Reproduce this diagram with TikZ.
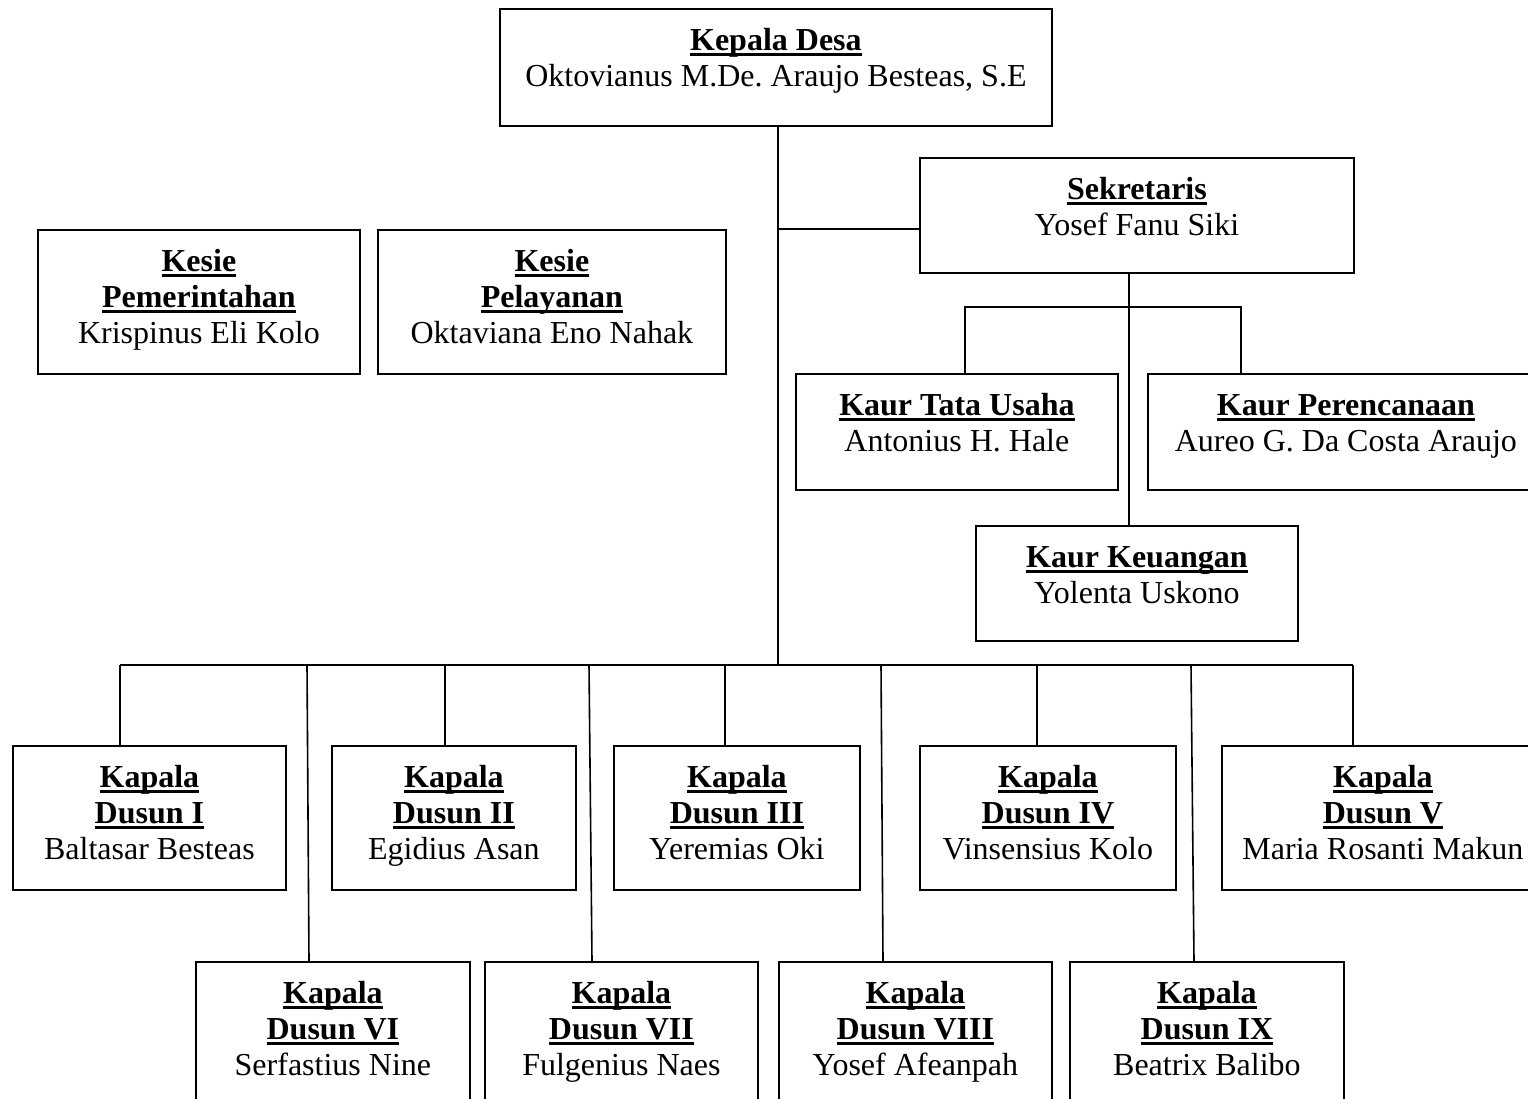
\documentclass[tikz,border=0pt]{standalone}
\usepackage{fontspec}
\setmainfont{Liberation Serif}
\frenchspacing
\newsavebox{\ulbx}
\newcommand{\ttl}[1]{\sbox{\ulbx}{\bfseries #1}\rlap{\rule[-6pt]{\wd\ulbx}{2.8pt}}\usebox{\ulbx}}
\tikzset{
 orgbox/.style={draw=black, line width=1.8pt, inner sep=0pt, anchor=north west},
 orgtxt/.style={font=\fontsize{32}{36}\selectfont\frenchspacing, align=center, inner sep=0pt, anchor=north},
 conn/.style={line width=1.6pt},
 thinconn/.style={line width=1.1pt},
}
% name, x1, y1, width, height, content
\newcommand{\obox}[6]{%
 \node[orgbox, minimum width=#4pt, minimum height=#5pt] (#1) at (#2,#3) {};
 \node[orgtxt] (#1t) at ([yshift=-17pt]#1.north) {\rule{0pt}{25pt}#6};}
\begin{document}
\begin{tikzpicture}[x=1pt,y=-1pt]
\useasboundingbox (0,0) rectangle (1528,1099);
\fill[white] (0,0) rectangle (1528,1099);

\obox{kd}{499}{8}{552}{117}{\ttl{Kepala Desa}\\Oktovianus M.De. Araujo Besteas, S.E}
\obox{sek}{919}{157}{434}{115}{\ttl{Sekretaris}\\Yosef Fanu Siki}
\obox{kp}{37}{229}{322}{144}{\ttl{Kesie}\\\ttl{Pemerintahan}\\Krispinus Eli Kolo}
\obox{kl}{377}{229}{348}{144}{\ttl{Kesie}\\\ttl{Pelayanan}\\Oktaviana Eno Nahak}
\obox{ktu}{795}{373}{322}{116}{\ttl{Kaur Tata Usaha}\\Antonius H. Hale}
\obox{kpr}{1147}{373}{396}{116}{\ttl{Kaur Perencanaan}\\Aureo G. Da Costa Araujo}
\obox{kk}{975}{525}{322}{115}{\ttl{Kaur Keuangan}\\Yolenta Uskono}
\obox{d1}{12}{745}{273}{144}{\ttl{Kapala}\\\ttl{Dusun I}\\Baltasar Besteas}
\obox{d2}{331}{745}{244}{144}{\ttl{Kapala}\\\ttl{Dusun II}\\Egidius Asan}
\obox{d3}{613}{745}{246}{144}{\ttl{Kapala}\\\ttl{Dusun III}\\Yeremias Oki}
\obox{d4}{919}{745}{256}{144}{\ttl{Kapala}\\\ttl{Dusun IV}\\Vinsensius Kolo}
\obox{d5}{1221}{745}{322}{144}{\ttl{Kapala}\\\ttl{Dusun V}\\Maria Rosanti Makun}
\obox{d6}{195}{961}{274}{144}{\ttl{Kapala}\\\ttl{Dusun VI}\\Serfastius Nine}
\obox{d7}{484}{961}{273}{144}{\ttl{Kapala}\\\ttl{Dusun VII}\\Fulgenius Naes}
\obox{d8}{778}{961}{273}{144}{\ttl{Kapala}\\\ttl{Dusun VIII}\\Yosef Afeanpah}
\obox{d9}{1069}{961}{274}{144}{\ttl{Kapala}\\\ttl{Dusun IX}\\Beatrix Balibo}

% helper coordinates
\coordinate (bus) at (0,665);
\coordinate (kdx) at (778,0);
\coordinate (sekc) at (919,229);
\coordinate (skx) at (1129,0);
\coordinate (kbar) at (0,307);
\coordinate (ktux) at (965,0);
\coordinate (kprx) at (1241,0);
\coordinate (x1) at (120,0);
\coordinate (x2) at (445,0);
\coordinate (x3) at (725,0);
\coordinate (x4) at (1037,0);
\coordinate (x5) at (1353,0);
\coordinate (s6) at (307,665);
\coordinate (s7) at (589,665);
\coordinate (s8) at (881,665);
\coordinate (s9) at (1191,665);
\coordinate (e6) at (309,0);
\coordinate (e7) at (592,0);
\coordinate (e8) at (883,0);
\coordinate (e9) at (1194,0);

\draw[conn] (kdx |- kd.south) -- (kdx |- bus);
\draw[conn] (kdx |- sekc) -- (sekc);
\draw[conn] (skx |- sek.south) -- (skx |- kk.north);
\draw[thinconn] (ktux |- ktu.north) -- (ktux |- kbar) -- (kprx |- kbar) -- (kprx |- kpr.north);
\draw[conn] (x1 |- bus) -- (x5 |- bus);
\draw[conn] (x1 |- bus) -- (x1 |- d1.north);
\draw[conn] (x2 |- bus) -- (x2 |- d2.north);
\draw[conn] (x3 |- bus) -- (x3 |- d3.north);
\draw[conn] (x4 |- bus) -- (x4 |- d4.north);
\draw[conn] (x5 |- bus) -- (x5 |- d5.north);
\draw[conn] (s6) -- (e6 |- d6.north);
\draw[conn] (s7) -- (e7 |- d7.north);
\draw[conn] (s8) -- (e8 |- d8.north);
\draw[conn] (s9) -- (e9 |- d9.north);
\end{tikzpicture}
\end{document}
